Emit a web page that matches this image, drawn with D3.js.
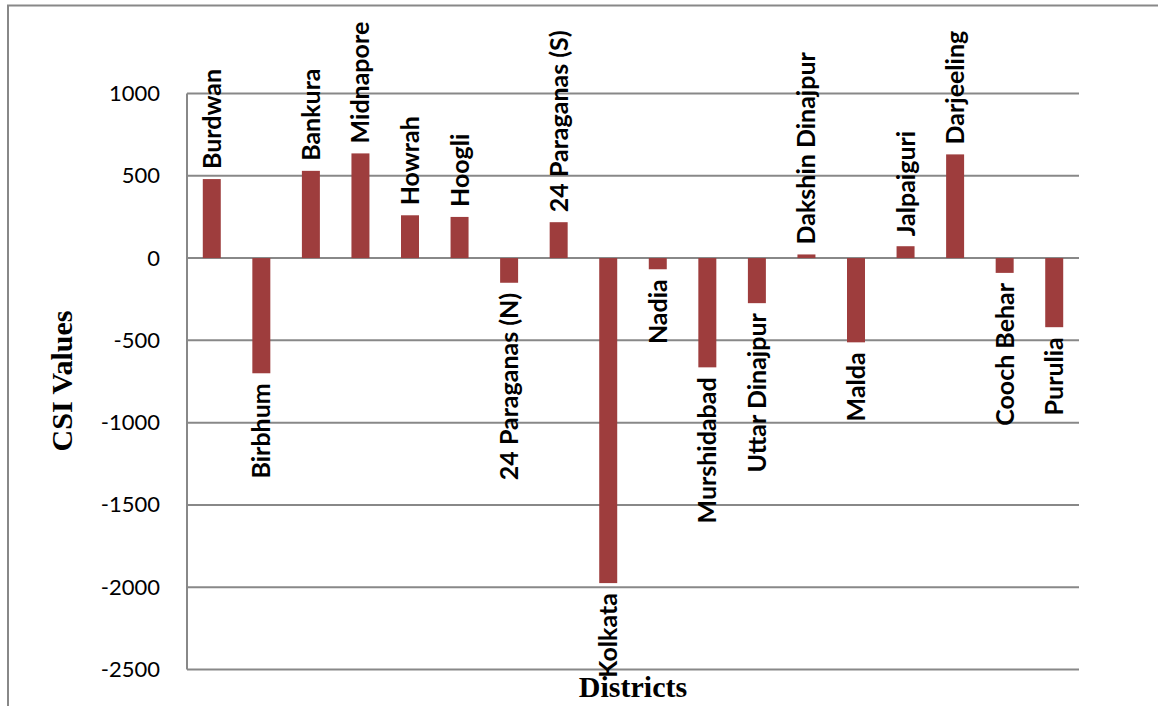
<!DOCTYPE html>
<html>
<head>
<meta charset="utf-8">
<script src="https://cdn.jsdelivr.net/npm/d3@7"></script>
<style>
  html, body { margin: 0; padding: 0; background: #fff; }
  svg { display: block; }
</style>
</head>
<body>
<svg id="chart" width="1158" height="706"></svg>
<script>
const districts = ["Burdwan", "Birbhum", "Bankura", "Midnapore", "Howrah", "Hoogli",
  "24 Paraganas (N)", "24 Paraganas (S)", "Kolkata", "Nadia", "Murshidabad",
  "Uttar Dinajpur", "Dakshin Dinajpur", "Malda", "Jalpaiguri", "Darjeeling",
  "Cooch Behar", "Purulia"];
const csiValues = [480, -700, 530, 636, 260, 250, -150, 218, -1975, -68, -664,
  -274, 22, -512, 72, 630, -90, -420];
const yTicks = [1000, 500, 0, -500, -1000, -1500, -2000, -2500];
const yTitle = "CSI Values";
const xTitle = "Districts";

const svg = d3.select("#chart");
const W = 1158, H = 706;
const plot = { left: 187, right: 1079, top: 93.5, bottom: 669.5 };
const barColor = "#9e3d3d";
const gridColor = "#888888";

// outer frame (chart area border: top and left visible)
svg.append("path")
  .attr("d", `M8,${H} L8,5.5 L${W},5.5`)
  .attr("fill", "none").attr("stroke", gridColor).attr("stroke-width", 2);

const x = d3.scaleBand().domain(districts)
  .range([plot.left, plot.right])
  .paddingInner(0.637).paddingOuter(0.3185);
const y = d3.scaleLinear().domain([-2500, 1000]).range([plot.bottom, plot.top]);

// gridlines
svg.append("g").selectAll("line").data(yTicks).join("line")
  .attr("x1", plot.left).attr("x2", plot.right)
  .attr("y1", d => y(d)).attr("y2", d => y(d))
  .attr("stroke", gridColor).attr("stroke-width", 2);

// y axis line
svg.append("line")
  .attr("x1", plot.left).attr("x2", plot.left)
  .attr("y1", y(1000)).attr("y2", y(-2500))
  .attr("stroke", gridColor).attr("stroke-width", 2);

// y axis tick labels
const yAxis = d3.axisLeft(y).tickValues(yTicks).tickSize(0).tickPadding(0)
  .tickFormat(d3.format("d"));
const ya = svg.append("g").attr("transform", `translate(${plot.left - 27},0)`).call(yAxis);
ya.select(".domain").remove();
ya.selectAll("text")
  .attr("font-family", "Lato, 'Open Sans', sans-serif")
  .attr("font-size", 22).attr("fill", "#000")
  .text(d => d < 0 ? "-" + Math.abs(d) : String(d));

// bars
svg.append("g").selectAll("rect").data(districts).join("rect")
  .attr("x", d => x(d))
  .attr("width", x.bandwidth())
  .attr("y", (d, i) => y(Math.max(0, csiValues[i])))
  .attr("height", (d, i) => Math.abs(y(csiValues[i]) - y(0)))
  .attr("fill", barColor);

// data labels (category names, rotated)
const gap = 10;
svg.append("g").selectAll("text").data(districts).join("text")
  .attr("transform", (d, i) => {
    const v = csiValues[i];
    const cx = x(d) + x.bandwidth() / 2;
    const yy = v >= 0 ? y(v) - gap : y(v) + gap;
    return `translate(${cx},${yy}) rotate(-90)`;
  })
  .attr("text-anchor", (d, i) => csiValues[i] >= 0 ? "start" : "end")
  .attr("dy", "0.36em")
  .attr("font-family", "Lato, 'Open Sans', sans-serif")
  .attr("font-weight", "bold")
  .attr("font-size", 25)
  .attr("fill", "#000")
  .text(d => d);

// axis titles
svg.append("text")
  .attr("x", (plot.left + plot.right) / 2).attr("y", 697)
  .attr("text-anchor", "middle")
  .attr("font-family", "'Liberation Serif', 'DejaVu Serif', serif")
  .attr("font-weight", "bold").attr("font-size", 30)
  .attr("fill", "#000").text(xTitle);

svg.append("text")
  .attr("transform", `translate(72,381) rotate(-90)`)
  .attr("text-anchor", "middle")
  .attr("font-family", "'Liberation Serif', 'DejaVu Serif', serif")
  .attr("font-weight", "bold").attr("font-size", 30)
  .attr("fill", "#000").text(yTitle);
</script>
</body>
</html>
